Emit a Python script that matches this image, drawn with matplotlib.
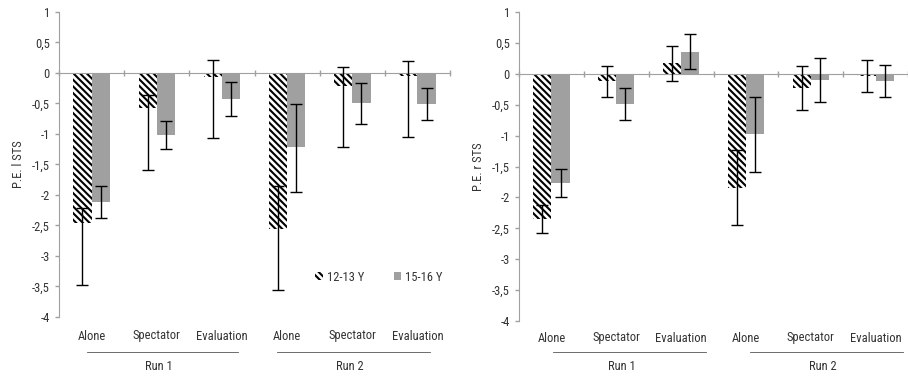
import matplotlib
matplotlib.use("Agg")
import matplotlib.pyplot as plt
import numpy as np
from matplotlib import transforms, font_manager

# pick a narrow font if one is installed
fam, stretch, fs = 'Roboto', 'normal', 8.3
for name, st in [('Roboto Condensed', 'normal'), ('Liberation Sans Narrow', 'normal'),
                 ('DejaVu Sans', 'condensed')]:
    try:
        f = font_manager.findfont(font_manager.FontProperties(family=name, stretch=st),
                                  fallback_to_default=False)
        if 'Condensed' in f or 'Narrow' in f:
            fam, stretch, fs = name, st, 9
            break
    except Exception:
        pass
plt.rcParams['font.family'] = [fam, 'DejaVu Sans']
plt.rcParams['font.stretch'] = stretch
plt.rcParams['hatch.linewidth'] = 1.5

categories = ['Alone', 'Spectator', 'Evaluation', 'Alone', 'Spectator', 'Evaluation']
runs = ['Run 1', 'Run 2']
groups = ['12-13 Y', '15-16 Y']

# left panel (P.E. l STS)
left_young = [-2.46, -0.58, -0.06, -2.55, -0.22, -0.05]
left_young_hi = [-2.22, -0.36, 0.21, -1.86, 0.10, 0.20]
left_young_lo = [-3.47, -1.59, -1.06, -3.56, -1.22, -1.05]
left_old = [-2.12, -1.02, -0.42, -1.22, -0.50, -0.51]
left_old_hi = [-1.86, -0.79, -0.14, -0.51, -0.17, -0.25]
left_old_lo = [-2.38, -1.25, -0.71, -1.95, -0.83, -0.77]

# right panel (P.E. r STS)
right_young = [-2.35, -0.11, 0.17, -1.84, -0.23, -0.03]
right_young_hi = [-2.13, 0.13, 0.45, -1.24, 0.12, 0.22]
right_young_lo = [-2.58, -0.38, -0.11, -2.44, -0.59, -0.29]
right_old = [-1.77, -0.49, 0.36, -0.98, -0.10, -0.12]
right_old_hi = [-1.54, -0.23, 0.65, -0.37, 0.26, 0.15]
right_old_lo = [-2.00, -0.75, 0.07, -1.59, -0.46, -0.38]

gray = '#a0a0a0'
txt = '#333333'
w = 0.28
H = 377.0


def panel(fig, ax, young, yhi, ylo, old, ohi, olo, ylabel, cat_y, spans, run_x,
          legend=False):
    x = np.arange(len(categories))
    young = np.array(young); old = np.array(old)
    ax.bar(x - w / 2, young, w, color='white', edgecolor='black',
           hatch='\\\\\\\\\\', linewidth=0, label=groups[0], zorder=2)
    ax.bar(x + w / 2, old, w, color=gray, linewidth=0, label=groups[1], zorder=2)
    yerr = [young - np.array(ylo), np.array(yhi) - young]
    oerr = [old - np.array(olo), np.array(ohi) - old]
    for xx, v, e in [(x - w / 2, young, yerr), (x + w / 2, old, oerr)]:
        ax.errorbar(xx, v, yerr=e, fmt='none', ecolor='black',
                    elinewidth=1, capsize=4, capthick=1, zorder=3)

    ax.set_xlim(-0.5, 5.5)
    ax.set_ylim(-4, 1)
    ticks = np.arange(-4, 1.01, 0.5)
    ax.set_yticks(ticks)
    ax.set_yticklabels([('%g' % v).replace('.', ',') for v in ticks])
    ax.tick_params(axis='y', colors=gray, labelcolor=txt, labelsize=fs,
                   length=3, width=1)
    ax.set_ylabel(ylabel, fontsize=fs, color=txt, labelpad=5)

    for s in ['top', 'right']:
        ax.spines[s].set_visible(False)
    ax.spines['left'].set_color(gray)
    ax.spines['bottom'].set_position(('data', 0))
    ax.spines['bottom'].set_color(gray)
    ax.set_xticks(np.arange(-0.5, 5.6, 1))
    ax.set_xticklabels([])
    ax.tick_params(axis='x', colors=gray, direction='inout', length=5, width=1)

    trans = transforms.blended_transform_factory(ax.transData, fig.transFigure)
    for i, c in enumerate(categories):
        ax.text(i, 1 - cat_y / H, c, transform=trans, ha='center', va='center',
                fontsize=fs, color=txt, clip_on=False)
    for r, (x0, x1), xr in zip(runs, spans, run_x):
        ax.plot([x0, x1], [1 - 352 / H] * 2, transform=trans, color='#555555',
                lw=0.6, clip_on=False)
        ax.text(xr, 1 - 367 / H, r, transform=trans, ha='center', va='center',
                fontsize=fs, color=txt)

    if legend:
        ax.legend(ncol=2, frameon=False, loc='center', bbox_to_anchor=(0.818, 0.131),
                  fontsize=fs, handlelength=0.6, handleheight=0.6,
                  handletextpad=0.3, columnspacing=2.4, labelcolor=txt)


fig = plt.figure(figsize=(9.08, 3.77), dpi=100)
ax1 = fig.add_axes([0.065, 0.1592, 0.4306, 0.809])
ax2 = fig.add_axes([0.5716, 0.1485, 0.4284, 0.8196])
panel(fig, ax1, left_young, left_young_hi, left_young_lo, left_old, left_old_hi,
      left_old_lo, 'P.E. l STS', 336, [(-0.07, 2.25), (2.84, 5.19)], [1.04, 3.96],
      legend=True)
panel(fig, ax2, right_young, right_young_hi, right_young_lo, right_old, right_old_hi,
      right_old_lo, 'P.E. r STS', 338, [(0.02, 2.39), (3.06, 5.43)], [1.09, 4.19])

fig.savefig('out.png', dpi=100)
